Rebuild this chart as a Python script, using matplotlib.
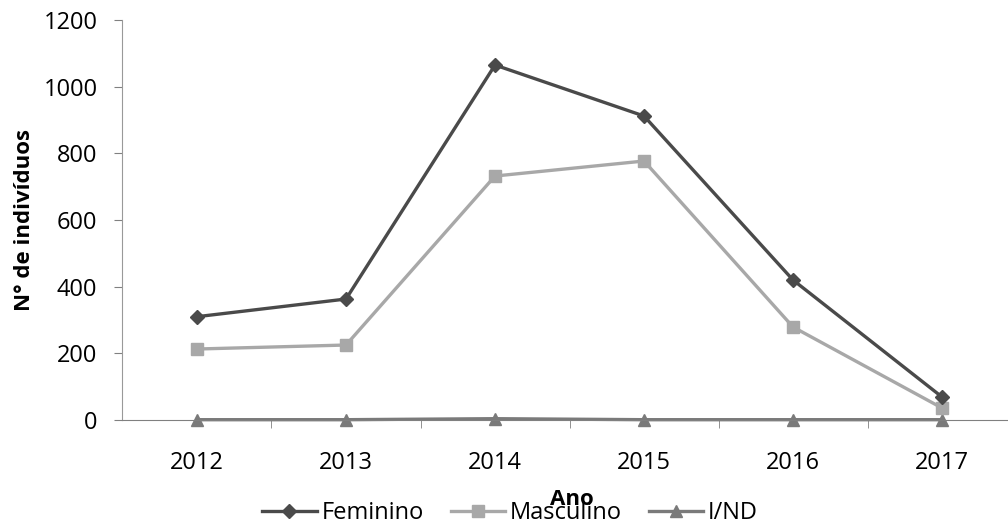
import numpy as np
import matplotlib.pyplot as plt

plt.rcParams['font.family'] = ['Open Sans', 'DejaVu Sans']

# data
anos = ['2012', '2013', '2014', '2015', '2016', '2017']
feminino = [310, 363, 1065, 912, 420, 69]
masculino = [213, 225, 732, 777, 279, 36]
ind = [1, 1, 4, 1, 1, 1]

fig = plt.figure(figsize=(10.08, 5.27), dpi=100)
ax = fig.add_axes([0.1215, 0.203, 0.887, 0.759])

x = np.arange(len(anos))
ax.plot(x, feminino, color='#4a4a4a', lw=2.4, marker='D', ms=7, label='Feminino', zorder=4)
ax.plot(x, masculino, color='#a8a8a8', lw=2.4, marker='s', ms=9, label='Masculino', zorder=3)
ax.plot(x, ind, color='#7a7a7a', lw=2.4, marker='^', ms=9, label='I/ND', zorder=2, clip_on=False)

ax.set_xlim(-0.5, 5.5)
ax.set_ylim(0, 1200)
ax.set_yticks(range(0, 1201, 200))
ax.set_xticks(x)
ax.set_xticklabels(anos)
ax.set_xticks(np.arange(0.5, 5.5, 1), minor=True)
ax.tick_params(axis='x', which='major', length=0, pad=22, labelsize=17)
ax.tick_params(axis='x', which='minor', length=6, color='#808080', direction='out')
ax.tick_params(axis='y', length=6, color='#808080', labelsize=17, pad=12)

for s in ['top', 'right']:
    ax.spines[s].set_visible(False)
ax.spines['left'].set_color('#999999')
ax.spines['bottom'].set_color('#808080')

ax.set_ylabel('N° de indivíduos', fontsize=16, fontweight='bold', labelpad=6)
fig.text(0.567, 0.053, 'Ano', fontsize=16, fontweight='bold', ha='center', va='center')

fig.legend(loc='center', bbox_to_anchor=(0.506, 0.027), ncol=3, frameon=False,
           fontsize=17, handlelength=2.3, handletextpad=0.2, columnspacing=1.15,
           borderpad=0, borderaxespad=0)

fig.savefig('out.png', dpi=100)
